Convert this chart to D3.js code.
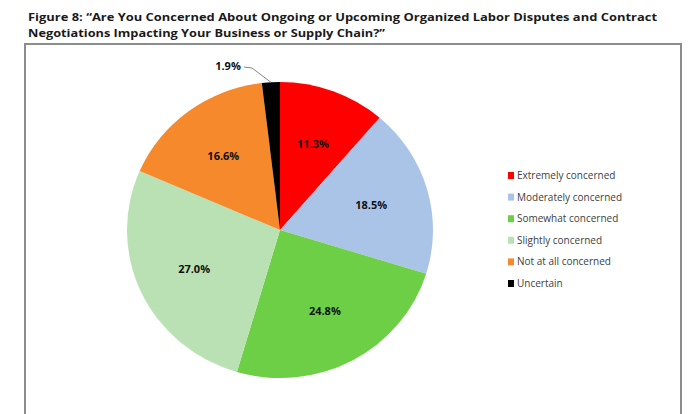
<!DOCTYPE html>
<html>
<head>
<meta charset="utf-8">
<script src="https://cdn.jsdelivr.net/npm/d3@7"></script>
<style>
  html, body { margin: 0; padding: 0; background: #fff; }
  svg { display: block; }
</style>
</head>
<body>
<svg id="chart" width="697" height="414"></svg>
<script>
// Survey answer categories, in clockwise order from 12 o'clock
const categories = [
  "Extremely concerned",
  "Moderately concerned",
  "Somewhat concerned",
  "Slightly concerned",
  "Not at all concerned",
  "Uncertain"
];
// Share of respondents (%)
const shares = [11.3, 18.5, 24.8, 27.0, 16.6, 1.9];
const colors = ["#fe0000", "#a9c4e7", "#6ccf45", "#b9e1b3", "#f6892c", "#000000"];
const titleLines = [
  "Figure 8: \u201CAre You Concerned About Ongoing or Upcoming Organized Labor Disputes and Contract",
  "Negotiations Impacting Your Business or Supply Chain?\u201D"
];

const svg = d3.select("#chart");
const fmt = d => d3.format(".1f")(d) + "%";

// Title
svg.append("g")
  .selectAll("text")
  .data(titleLines)
  .join("text")
  .attr("x", 28)
  .attr("y", (d, i) => 21 + i * 16)
  .attr("font-family", "'Liberation Sans Narrow', 'Open Sans', sans-serif")
  .attr("font-weight", "bold")
  .attr("font-size", 11)
  .attr("fill", "#1a1a1a")
  .attr("textLength", (d, i) => i === 0 ? 629 : 357)
  .attr("lengthAdjust", "spacingAndGlyphs")
  .text(d => d);

// Chart frame (open at the bottom)
svg.append("path")
  .attr("d", "M25,414 V44 H681 V414")
  .attr("fill", "none")
  .attr("stroke", "#8c8c8c")
  .attr("stroke-width", 2);

// Pie
const cx = 280, cy = 230, ry = 148, sx = 153 / 148;
const pie = d3.pie().sort(null).value(d => d.value);
const data = categories.map((c, i) => ({ name: c, value: shares[i], color: colors[i] }));
const arcs = pie(data);
const arc = d3.arc().innerRadius(0).outerRadius(ry);

const pieG = svg.append("g")
  .attr("transform", `translate(${cx},${cy}) scale(${sx},1)`);
pieG.selectAll("path")
  .data(arcs)
  .join("path")
  .attr("d", arc)
  .attr("fill", d => d.data.color);

// Value labels inside slices
const labelArc = d3.arc().innerRadius(ry * 0.62).outerRadius(ry * 0.62);
const inside = arcs.filter(d => d.data.value > 5);
svg.append("g")
  .selectAll("text")
  .data(inside)
  .join("text")
  .attr("x", d => cx + labelArc.centroid(d)[0] * sx)
  .attr("y", d => cy + labelArc.centroid(d)[1] + 4)
  .attr("text-anchor", "middle")
  .attr("font-family", "'Liberation Sans Narrow', 'Open Sans', sans-serif")
  .attr("font-weight", "bold")
  .attr("font-size", 11)
  .attr("fill", "#111")
  .text(d => fmt(d.data.value));

// Small slice: outside label with a leader line
const small = arcs.filter(d => d.data.value <= 5);
const edgeArc = d3.arc().innerRadius(ry).outerRadius(ry);
const lx = 228, ly = 66;
small.forEach(d => {
  const [ex, ey] = edgeArc.centroid(d);
  svg.append("polyline")
    .attr("points", `${lx + 16},${ly + 1} ${lx + 24},${ly + 2} ${cx + ex * sx},${cy + ey}`)
    .attr("fill", "none")
    .attr("stroke", "#888")
    .attr("stroke-width", 1);
  svg.append("text")
    .attr("x", lx)
    .attr("y", ly + 4)
    .attr("text-anchor", "middle")
    .attr("font-family", "'Liberation Sans Narrow', 'Open Sans', sans-serif")
    .attr("font-weight", "bold")
    .attr("font-size", 11)
    .attr("fill", "#111")
    .text(fmt(d.data.value));
});

// Legend
const legend = svg.append("g").attr("transform", "translate(508,176)");
const rows = legend.selectAll("g")
  .data(data)
  .join("g")
  .attr("transform", (d, i) => `translate(0,${i * 21.6})`);
rows.append("rect")
  .attr("x", 0).attr("y", -4)
  .attr("width", 6).attr("height", 7)
  .attr("fill", d => d.color);
rows.append("text")
  .attr("x", 9)
  .attr("y", 3)
  .attr("font-family", "'Liberation Sans Narrow', 'Open Sans', sans-serif")
  .attr("font-size", 10)
  .attr("fill", "#404040")
  .text(d => d.name);
</script>
</body>
</html>
